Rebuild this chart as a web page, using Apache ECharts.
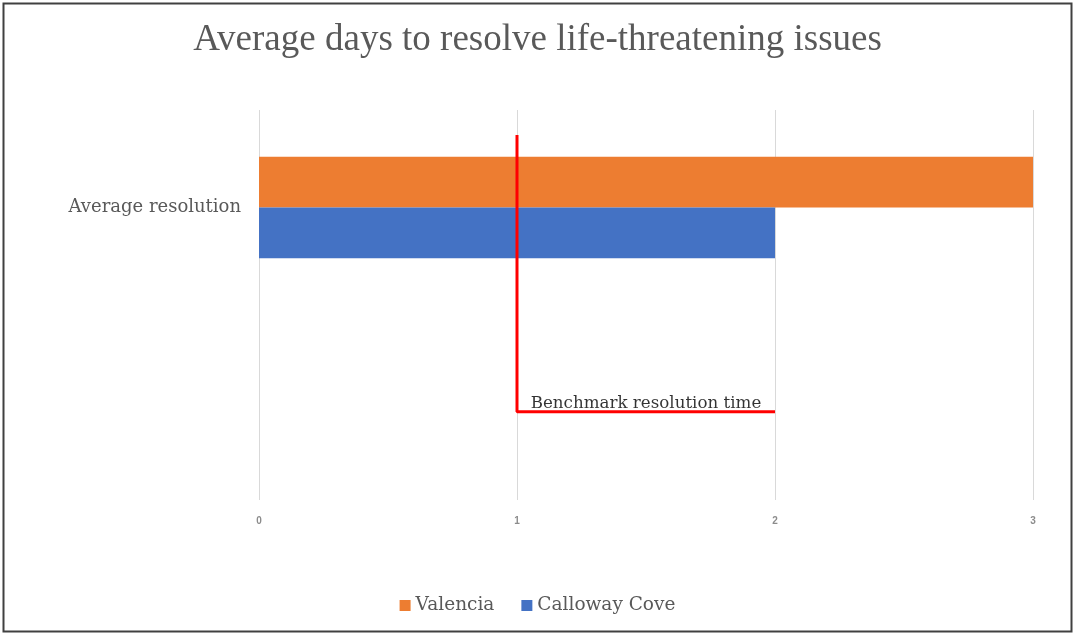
<!DOCTYPE html>
<html><head><meta charset="utf-8">
<script src="https://cdn.jsdelivr.net/npm/echarts@6/dist/echarts.min.js"></script>
<style>html,body{margin:0;padding:0;background:#fff}#c{width:1075px;height:635px}</style>
</head><body><div id="c"></div>
<script>
var categories = ["Average resolution", ""];
var valencia = [3, null];
var calloway = [2, null];
var xTicks = [0, 1, 2, 3];
var benchmarkLine = [[1, 0.936], [1, 0.226], [2, 0.226]];
var benchmarkLabel = [[1.5, 0.226]];
var serif = '"Liberation Serif", "DejaVu Serif", serif';
var wideSerif = '"DejaVu Serif", serif';
var chart = echarts.init(document.getElementById('c'));
chart.setOption({
  animation: false,
  graphic: [{type:'rect', shape:{x:3.5,y:3.5,width:1068,height:628}, style:{fill:'none', stroke:'#404040', lineWidth:2}, silent:true}],
  title: {text:'Average days to resolve life-threatening issues', left:'center', top:17,
    textStyle:{fontFamily:serif, fontSize:37, fontWeight:'normal', color:'#595959'}},
  legend: {bottom:15, left:'center', itemWidth:11, itemHeight:11, itemGap:27, icon:'rect',
    textStyle:{fontFamily:wideSerif, fontSize:18.5, color:'#595959'}, data:['Valencia','Calloway Cove']},
  grid: {left:259, right:42, top:110, bottom:135},
  xAxis: [{type:'value', min:xTicks[0], max:xTicks[xTicks.length-1], interval:1,
    axisLine:{show:false}, axisTick:{show:false},
    axisLabel:{color:'#8c8c8c', fontSize:10, fontFamily:'"Liberation Sans", sans-serif', fontWeight:'bold', margin:16},
    splitLine:{lineStyle:{color:'#d9d9d9', width:1}}}],
  yAxis: [{type:'category', data:categories, inverse:true,
    axisLine:{show:false}, axisTick:{show:false},
    axisLabel:{color:'#595959', fontSize:18, fontFamily:wideSerif, margin:18}},
    {type:'value', min:0, max:1, show:false}],
  series: [
    {name:'Valencia', type:'bar', data:valencia, barGap:'0%', barCategoryGap:'48%', itemStyle:{color:'#ED7D31'}},
    {name:'Calloway Cove', type:'bar', data:calloway, barGap:'0%', barCategoryGap:'48%', itemStyle:{color:'#4472C4'}},
    {name:'benchmark', type:'line', yAxisIndex:1, data:benchmarkLine, symbol:'none', z:10,
      lineStyle:{color:'#FF0000', width:3}},
    {name:'benchmarkText', type:'scatter', yAxisIndex:1, data:benchmarkLabel, symbolSize:0, z:11,
      label:{show:true, position:'top', distance:0, formatter:'Benchmark resolution time',
        fontFamily:wideSerif, fontSize:16.7, color:'#000'}}
  ]
});
</script></body></html>
